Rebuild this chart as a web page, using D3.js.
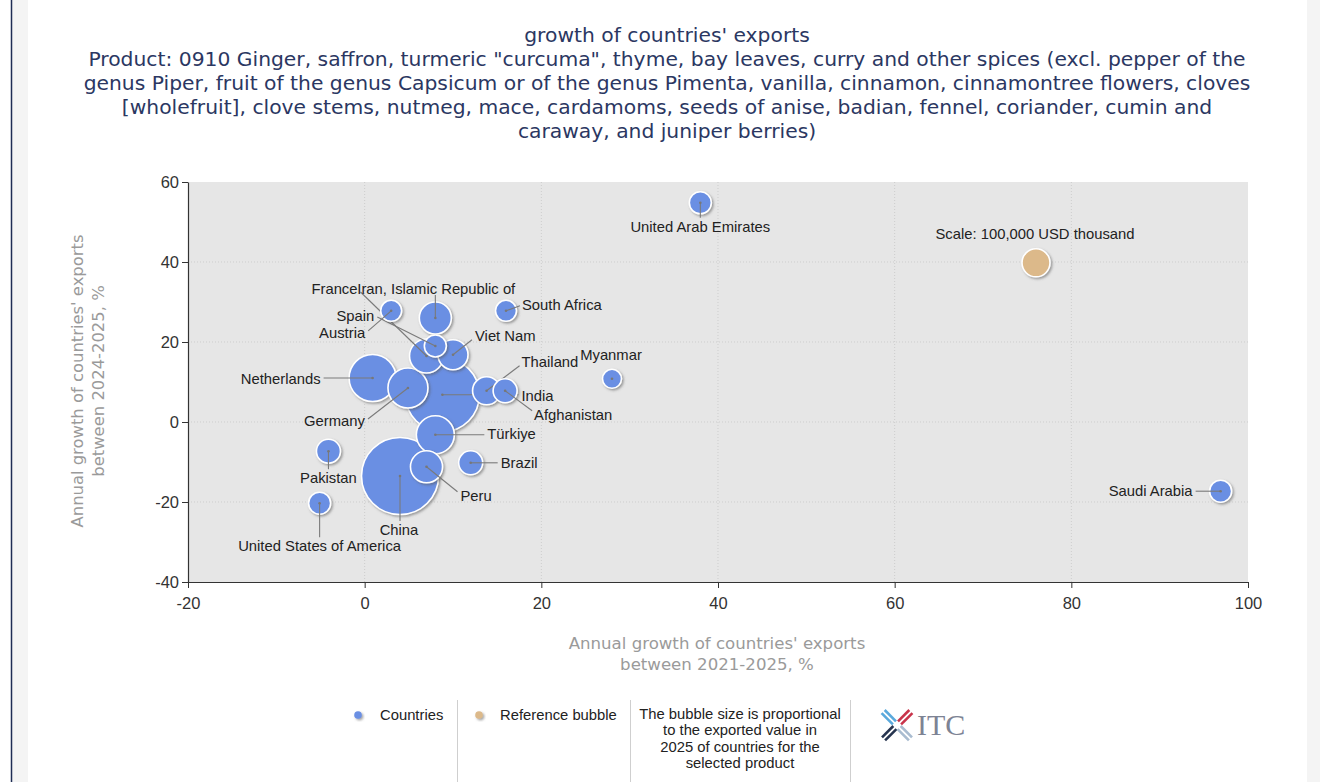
<!DOCTYPE html>
<html>
<head>
<meta charset="utf-8">
<script src="https://cdn.jsdelivr.net/npm/d3@7"></script>
<style>
  body { margin: 0; background: #fff; }
  svg { display: block; }
</style>
</head>
<body>
<svg id="chart" width="1320" height="782"></svg>
<script>
// data
const countries = ["United Arab Emirates", "Saudi Arabia", "Myanmar", "South Africa", "Austria",
  "Spain", "France", "Iran, Islamic Republic of", "Viet Nam", "Netherlands", "Germany", "India",
  "Thailand", "Afghanistan", "Türkiye", "Brazil", "Peru", "China", "Pakistan", "United States of America"];
const growth2125 = [38, 96.9, 28, 16, 3, 8, 7, 8, 10, 0.9, 4.9, 8.8, 13.8, 15.9, 8, 12, 7, 4, -4.1, -5.1];
const growth2425 = [54.8, -17.3, 10.8, 27.8, 27.8, 19, 16.5, 26, 16.8, 11, 8.5, 6.8, 7.8, 7.8, -3.2, -10.2, -11.2, -13.5, -7.3, -20.3];
const exports2025 = [61700, 61700, 46000, 56000, 56000, 61700, 147000, 131000, 115000, 282000, 204000,
  698000, 100000, 73500, 184000, 73500, 131000, 756000, 73500, 61700];
const refBubble = { x: 76, y: 39.8, value: 100000, label: "Scale: 100,000 USD thousand" };
const xTicks = [-20, 0, 20, 40, 60, 80, 100];
const yTicks = [-40, -20, 0, 20, 40, 60];

const titleLines = ["growth of countries' exports",
  "Product: 0910 Ginger, saffron, turmeric \"curcuma\", thyme, bay leaves, curry and other spices (excl. pepper of the",
  "genus Piper, fruit of the genus Capsicum or of the genus Pimenta, vanilla, cinnamon, cinnamontree flowers, cloves",
  "[wholefruit], clove stems, nutmeg, mace, cardamoms, seeds of anise, badian, fennel, coriander, cumin and",
  "caraway, and juniper berries)"];

// label placement relative to bubble centre (px): text offset, anchor, leader end
const labelLayout = {
  "United Arab Emirates": [0, 24, "middle", 0, 15],
  "Saudi Arabia": [-28, 0, "end", -25, 0],
  "Myanmar": [-1, -24, "middle", null, null],
  "South Africa": [16, -6, "start", 14, -5],
  "Austria": [-26, 22, "end", -23, 20],
  "Spain": [-61, -30, "end", -58, -29],
  "France": [-69, -67, "end", -66, -64],
  "Iran, Islamic Republic of": [-78, -29, "start", 0, -23],
  "Viet Nam": [22, -19, "start", 19, -15],
  "Netherlands": [-52, 1, "end", -49, 0],
  "Germany": [-43, 33, "end", -40, 31],
  "India": [79, 1, "start", 76, 0],
  "Thailand": [35, -29, "start", 33, -25],
  "Afghanistan": [29, 24, "start", 27, 20],
  "Türkiye": [52, -1, "start", 49, 0],
  "Brazil": [30, 0, "start", 27, 0],
  "Peru": [34, 29, "start", 31, 25],
  "China": [-1, 54, "middle", 0, 45],
  "Pakistan": [0, 27, "middle", 0, 18],
  "United States of America": [0, 43, "middle", 0, 34]
};

const svg = d3.select("#chart");
const W = 1320, H = 782;

// page frame
svg.append("rect").attr("width", W).attr("height", H).attr("fill", "#fff");
svg.append("rect").attr("x", 12).attr("y", 0).attr("width", 16).attr("height", H).attr("fill", "#f4f4f4");
svg.append("rect").attr("x", 1307).attr("y", 0).attr("width", 13).attr("height", H).attr("fill", "#f4f4f4");
svg.append("line").attr("x1", 11.5).attr("x2", 11.5).attr("y1", 0).attr("y2", H)
  .attr("stroke", "#1f2d55").attr("stroke-width", 1.5);

const defs = svg.append("defs");
defs.append("filter").attr("id", "shadow").attr("x", "-30%").attr("y", "-30%").attr("width", "160%").attr("height", "160%")
  .append("feDropShadow").attr("dx", 1.5).attr("dy", 1.5).attr("stdDeviation", 1.3)
  .attr("flood-color", "#555").attr("flood-opacity", 0.55);

// titles
svg.append("g").selectAll("text").data(titleLines).enter().append("text")
  .attr("x", 667)
  .attr("y", (d, i) => 42 + i * 24)
  .attr("text-anchor", "middle")
  .style("font-family", "'DejaVu Sans', Verdana, sans-serif")
  .style("font-size", "20.3px")
  .style("fill", "#2b3762")
  .text(d => d);

const margin = { top: 182, left: 188 };
const width = 1060, height = 400;
const g = svg.append("g").attr("transform", `translate(${margin.left},${margin.top})`);

const x = d3.scaleLinear().domain([-20, 100]).range([0, width]);
const y = d3.scaleLinear().domain([-40, 60]).range([height, 0]);
const r = d3.scaleSqrt().domain([0, 100000]).range([0, 14]);

g.append("rect").attr("width", width).attr("height", height).attr("fill", "#e6e6e6");

// dotted grid
g.append("g").selectAll("line").data(xTicks.slice(1, -1)).enter().append("line")
  .attr("x1", d => x(d)).attr("x2", d => x(d)).attr("y1", 0).attr("y2", height)
  .attr("stroke", "#cdcdcd").attr("stroke-dasharray", "1,2");
g.append("g").selectAll("line").data(yTicks.slice(1, -1)).enter().append("line")
  .attr("y1", d => y(d)).attr("y2", d => y(d)).attr("x1", 0).attr("x2", width)
  .attr("stroke", "#cdcdcd").attr("stroke-dasharray", "1,2");

// axes
const xAxis = g.append("g").attr("transform", `translate(0,${height})`)
  .call(d3.axisBottom(x).tickValues(xTicks).tickFormat(d => String(d)).tickSize(6).tickSizeOuter(0));
const yAxis = g.append("g")
  .call(d3.axisLeft(y).tickValues(yTicks).tickFormat(d => String(d)).tickSize(6).tickSizeOuter(0));
[xAxis, yAxis].forEach(a => {
  a.select(".domain").attr("stroke", "#333").attr("stroke-width", 1.2);
  a.selectAll(".tick line").attr("stroke", "#333");
  a.selectAll(".tick text")
    .style("font-family", "Arial, 'Liberation Sans', sans-serif")
    .style("font-size", "16.5px").style("fill", "#333");
});
xAxis.selectAll(".tick text").attr("y", 15);
yAxis.selectAll(".tick text").attr("x", -9);

// axis titles
const axisFont = "'DejaVu Sans', Verdana, sans-serif";
svg.append("g").selectAll("text")
  .data(["Annual growth of countries' exports", "between 2021-2025, %"]).enter().append("text")
  .attr("x", 717).attr("y", (d, i) => 649 + i * 21)
  .attr("text-anchor", "middle")
  .style("font-family", axisFont).style("font-size", "16.6px").style("fill", "#9a9a9a")
  .text(d => d);
svg.append("g").attr("transform", "translate(0,381) rotate(-90)")
  .selectAll("text")
  .data(["Annual growth of countries' exports", "between 2024-2025, %"]).enter().append("text")
  .attr("x", 0).attr("y", (d, i) => 83 + i * 21)
  .attr("text-anchor", "middle")
  .style("font-family", axisFont).style("font-size", "16.4px").style("fill", "#9a9a9a")
  .text(d => d);

// bubbles
const data = countries.map((name, i) => ({
  name, x: growth2125[i], y: growth2425[i], value: exports2025[i], layout: labelLayout[name]
}));
const sorted = data.slice().sort((a, b) => b.value - a.value);
const labelFont = "Arial, 'Liberation Sans', sans-serif";
const labelSize = "14.8px";

const nodes = g.selectAll(".bubble").data(sorted).enter().append("g")
  .attr("class", "bubble")
  .attr("transform", d => `translate(${x(d.x)},${y(d.y)})`);
nodes.append("circle")
  .attr("r", d => r(d.value))
  .attr("fill", "#6a8fe3")
  .attr("stroke", "#fff").attr("stroke-width", 1.6)
  .attr("filter", "url(#shadow)");
nodes.filter(d => d.layout[3] !== null).append("line")
  .attr("x1", 0).attr("y1", 0)
  .attr("x2", d => d.layout[3]).attr("y2", d => d.layout[4])
  .attr("stroke", "#7a7a7a").attr("stroke-width", 1.1);
nodes.append("circle").attr("r", 1.3).attr("fill", "#777");

// labels on top
g.selectAll(".lbl").data(data).enter().append("text")
  .attr("class", "lbl")
  .attr("x", d => x(d.x) + d.layout[0])
  .attr("y", d => y(d.y) + d.layout[1])
  .attr("dy", "0.35em")
  .attr("text-anchor", d => d.layout[2])
  .style("font-family", labelFont).style("font-size", labelSize).style("fill", "#222")
  .text(d => d.name);

// reference bubble
g.append("circle")
  .attr("cx", x(refBubble.x)).attr("cy", y(refBubble.y))
  .attr("r", r(refBubble.value))
  .attr("fill", "#dcb98a").attr("stroke", "#fff").attr("stroke-width", 1.6)
  .attr("filter", "url(#shadow)");
g.append("text")
  .attr("x", x(refBubble.x) - 1).attr("y", y(refBubble.y) - 29).attr("dy", "0.35em")
  .attr("text-anchor", "middle")
  .style("font-family", labelFont).style("font-size", labelSize).style("fill", "#222")
  .text(refBubble.label);

// legend
const legend = svg.append("g").style("font-family", labelFont).style("font-size", labelSize).style("fill", "#222");
[457, 630, 850].forEach(sx => {
  legend.append("line").attr("x1", sx + 0.5).attr("x2", sx + 0.5).attr("y1", 700).attr("y2", 782)
    .attr("stroke", "#cfcfcf");
});
legend.append("circle").attr("cx", 358).attr("cy", 715).attr("r", 3.8).attr("fill", "#6a8fe3").attr("filter", "url(#shadow)");
legend.append("text").attr("x", 380).attr("y", 720).text("Countries");
legend.append("circle").attr("cx", 479).attr("cy", 715).attr("r", 3.8).attr("fill", "#dcb98a").attr("filter", "url(#shadow)");
legend.append("text").attr("x", 500).attr("y", 720).text("Reference bubble");
legend.selectAll(".note").data(["The bubble size is proportional", "to the exported value in",
  "2025 of countries for the", "selected product"]).enter().append("text")
  .attr("class", "note")
  .attr("x", 740).attr("y", (d, i) => 719 + i * 16.3)
  .attr("text-anchor", "middle")
  .text(d => d);

// ITC logo: four striped arms forming an X
const logo = svg.append("g").attr("transform", "translate(897,725)");
const arms = [
  { a: 45, c: "#5aa9dc", dx: -8, dy: -8 },
  { a: -45, c: "#c8334a", dx: 8, dy: -8 },
  { a: -45, c: "#26344f", dx: -8, dy: 8 },
  { a: 45, c: "#a9bcd0", dx: 8, dy: 8 }
];
arms.forEach(b => {
  const arm = logo.append("g").attr("transform", `translate(${b.dx},${b.dy}) rotate(${b.a})`);
  [-3.2, 1.2].forEach(off => {
    arm.append("rect").attr("x", -8).attr("y", off).attr("width", 16).attr("height", 2.6).attr("fill", b.c);
  });
});
svg.append("text").attr("x", 917).attr("y", 735)
  .style("font-family", "'Liberation Serif', 'DejaVu Serif', serif")
  .style("font-size", "30px").style("fill", "#7d8394")
  .text("ITC");
</script>
</body>
</html>
